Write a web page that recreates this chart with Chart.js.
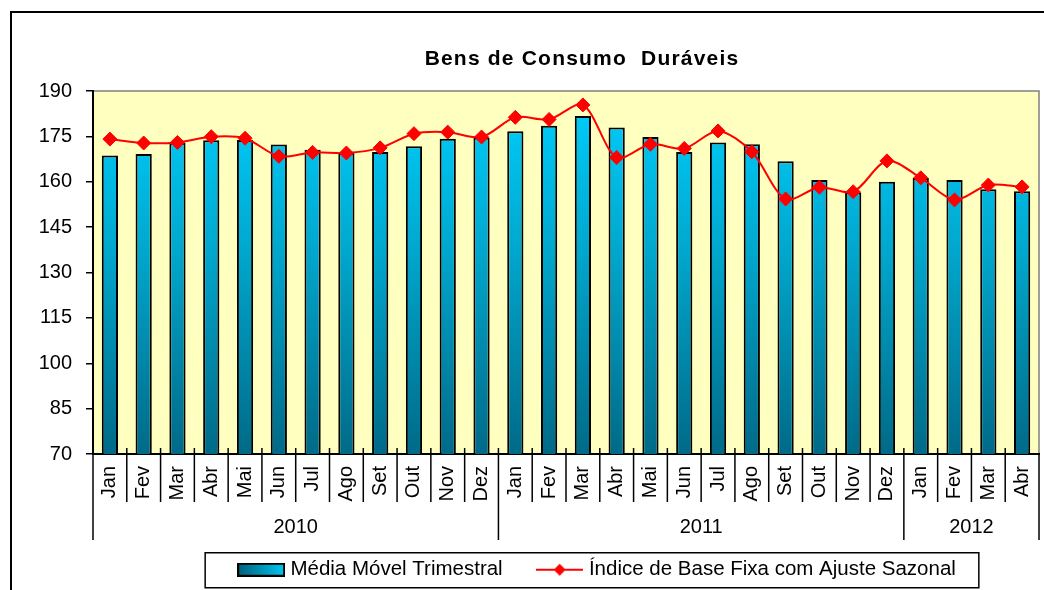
<!DOCTYPE html>
<html lang="pt">
<head>
<meta charset="UTF-8">
<title>Bens de Consumo Duráveis</title>
<script src="https://cdn.jsdelivr.net/npm/chart.js"></script>
<style>
  html, body { margin: 0; padding: 0; background: #fff; overflow: hidden; }
  #grafico { display: block; }
</style>
</head>
<body>
<canvas id="grafico" width="1198" height="590"></canvas>
<script>
  const titulo = 'Bens de Consumo  Duráveis';
  const meses = ['Jan', 'Fev', 'Mar', 'Abr', 'Mai', 'Jun', 'Jul', 'Ago', 'Set', 'Out', 'Nov', 'Dez',
                 'Jan', 'Fev', 'Mar', 'Abr', 'Mai', 'Jun', 'Jul', 'Ago', 'Set', 'Out', 'Nov', 'Dez',
                 'Jan', 'Fev', 'Mar', 'Abr'];
  const anos = ['2010', '2011', '2012'];
  const mesesPorAno = [12, 12, 4];
  const serieBarras = 'Média Móvel Trimestral';
  const serieLinha = 'Índice de Base Fixa com Ajuste Sazonal';
  const mediaMovel = [168.7, 169.2, 172.9, 173.7, 173.8, 172.3, 170.6, 169.6, 169.8, 171.7, 174.2, 174.6,
                      176.7, 178.5, 181.7, 177.9, 174.8, 169.8, 173.0, 172.4, 166.8, 160.6, 156.5, 160.0,
                      161.2, 160.6, 157.5, 156.9];
  const indiceAjustado = [174.1, 172.8, 173.0, 174.9, 174.4, 168.4, 169.7, 169.5, 171.2, 175.9, 176.4, 174.8,
                          181.3, 180.6, 185.4, 168.0, 172.4, 171.0, 176.8, 169.9, 154.3, 158.2, 156.7, 166.9,
                          161.3, 154.0, 158.9, 158.3];
  const yMin = 70, yMax = 190, yPasso = 15;

  const fonte = '"Liberation Sans", Arial, sans-serif';

  // amostras da legenda (barra com degradê e linha com losango)
  function amostraBarra() {
    const c = document.createElement('canvas');
    c.width = 48; c.height = 14;
    const g = c.getContext('2d');
    const gr = g.createLinearGradient(0, 0, 48, 0);
    gr.addColorStop(0, '#005f7a');
    gr.addColorStop(1, '#00c8f0');
    g.fillStyle = gr;
    g.fillRect(1, 1, 46, 12);
    g.strokeStyle = '#000';
    g.lineWidth = 2;
    g.strokeRect(1, 1, 46, 12);
    return c;
  }
  function amostraLinha() {
    const c = document.createElement('canvas');
    c.width = 47; c.height = 16;
    const g = c.getContext('2d');
    g.strokeStyle = '#ff0000';
    g.lineWidth = 2;
    g.beginPath(); g.moveTo(0, 8); g.lineTo(47, 8); g.stroke();
    g.fillStyle = '#ff0000';
    g.beginPath();
    g.moveTo(23.5, 2); g.lineTo(29.5, 8); g.lineTo(23.5, 14); g.lineTo(17.5, 8);
    g.closePath(); g.fill();
    return c;
  }
  const amostras = [amostraBarra(), amostraLinha()];

  function degradeBarra(c) {
    const area = c.chart.chartArea;
    if (!area) return '#00a8d0';
    const gr = c.chart.ctx.createLinearGradient(0, area.top, 0, area.bottom);
    gr.addColorStop(0, '#00d0ff');
    gr.addColorStop(0.45, '#00a6cc');
    gr.addColorStop(1, '#006a88');
    return gr;
  }

  const fundo = {
    id: 'fundo',
    beforeDraw(chart) {
      const { ctx, chartArea: a, width, height } = chart;
      ctx.save();
      ctx.fillStyle = '#fff';
      ctx.fillRect(0, 0, width, height);
      ctx.fillStyle = '#ffffc0';
      ctx.fillRect(a.left, a.top, a.right - a.left, a.bottom - a.top);
      ctx.strokeStyle = '#808080';
      ctx.lineWidth = 1.5;
      ctx.beginPath();
      ctx.moveTo(a.left, a.top);
      ctx.lineTo(a.right, a.top);
      ctx.lineTo(a.right, a.bottom);
      ctx.stroke();
      // moldura do gráfico
      ctx.strokeStyle = '#000';
      ctx.lineWidth = 2;
      ctx.beginPath();
      ctx.moveTo(11, height);
      ctx.lineTo(11, 12);
      ctx.lineTo(width, 12);
      ctx.stroke();
      // título
      ctx.fillStyle = '#000';
      ctx.font = 'bold 21px ' + fonte;
      ctx.textAlign = 'center';
      ctx.textBaseline = 'middle';
      ctx.letterSpacing = '1.2px';
      ctx.fillText(titulo, 582, 59);
      ctx.restore();
    }
  };

  const eixoAnos = {
    id: 'eixoAnos',
    afterDraw(chart) {
      const x = chart.scales.x, a = chart.chartArea, ctx = chart.ctx;
      const passo = x.getPixelForValue(1) - x.getPixelForValue(0);
      const limite = i => x.getPixelForValue(i) - passo / 2;
      const fronteiras = [0];
      mesesPorAno.forEach(n => fronteiras.push(fronteiras[fronteiras.length - 1] + n));
      ctx.save();
      ctx.strokeStyle = '#000';
      ctx.lineWidth = 1.5;
      for (let i = 0; i <= meses.length; i++) {
        const px = limite(i);
        const ano = fronteiras.includes(i);
        const topo = (i === 0 || i === meses.length) ? a.bottom : a.bottom - 6;
        const fim = ano ? a.bottom + 86 : a.bottom + 48;
        ctx.beginPath();
        ctx.moveTo(px, topo);
        ctx.lineTo(px, fim);
        ctx.stroke();
      }
      ctx.fillStyle = '#000';
      ctx.font = '20px ' + fonte;
      ctx.textAlign = 'center';
      ctx.textBaseline = 'middle';
      anos.forEach((ano, k) => {
        const centro = (limite(fronteiras[k]) + limite(fronteiras[k + 1])) / 2;
        ctx.fillText(ano, centro, a.bottom + 73);
      });
      ctx.restore();
    }
  };

  const caixaLegenda = {
    id: 'caixaLegenda',
    afterDraw(chart) {
      const hb = chart.legend && chart.legend.legendHitBoxes;
      if (!hb || !hb.length) return;
      const ctx = chart.ctx;
      const ult = hb[hb.length - 1];
      const esq = hb[0].left - 37;
      const dir = ult.left + ult.width + 23;
      const meio = hb[0].top + hb[0].height / 2;
      ctx.save();
      ctx.strokeStyle = '#000';
      ctx.lineWidth = 1.5;
      ctx.strokeRect(esq, meio - 17, dir - esq, 35);
      ctx.restore();
    }
  };

  new Chart(document.getElementById('grafico'), {
    type: 'bar',
    data: {
      labels: meses,
      datasets: [{
        type: 'bar',
        label: serieBarras,
        data: mediaMovel,
        backgroundColor: degradeBarra,
        borderColor: '#000',
        borderWidth: 2,
        barPercentage: 0.48,
        categoryPercentage: 1,
        order: 2
      }, {
        type: 'line',
        label: serieLinha,
        data: indiceAjustado,
        borderColor: '#ff0000',
        borderWidth: 2,
        tension: 0.3,
        pointStyle: 'rectRot',
        pointRadius: 7,
        pointBackgroundColor: '#ff0000',
        pointBorderColor: '#ff0000',
        pointBorderWidth: 1,
        order: 1
      }]
    },
    options: {
      responsive: false,
      animation: false,
      layout: { padding: { top: 91, left: 0, right: 0, bottom: 0 } },
      plugins: {
        title: { display: false },
        tooltip: { enabled: false },
        legend: {
          position: 'bottom',
          labels: {
            usePointStyle: true,
            pointStyleWidth: 38,
            padding: 38,
            color: '#000',
            font: { family: fonte, size: 20.5 },
            generateLabels: chart => chart.data.datasets.map((d, i) => ({
              text: d.label,
              pointStyle: amostras[i],
              datasetIndex: i,
              hidden: false,
              lineWidth: 0,
              fontColor: '#000'
            }))
          }
        }
      },
      scales: {
        x: {
          grid: { display: false, drawTicks: false },
          border: { color: '#000', width: 2 },
          ticks: {
            color: '#000',
            font: { family: fonte, size: 20 },
            minRotation: 90,
            maxRotation: 90,
            autoSkip: false,
            padding: 12
          },
          afterFit: s => { s.height = 67.5; }
        },
        y: {
          min: yMin,
          max: yMax,
          ticks: { stepSize: yPasso, color: '#000', font: { family: fonte, size: 20 }, padding: 14 },
          grid: { drawOnChartArea: false, tickLength: 7, color: '#000', lineWidth: 1.5 },
          border: { color: '#000', width: 2 },
          afterFit: s => { s.width = 93; }
        },
        y2: {
          position: 'right',
          display: true,
          grid: { display: false, drawTicks: false },
          ticks: { display: false },
          border: { display: false },
          afterFit: s => { s.width = 159; }
        }
      }
    },
    plugins: [fundo, eixoAnos, caixaLegenda]
  });
</script>
</body>
</html>
